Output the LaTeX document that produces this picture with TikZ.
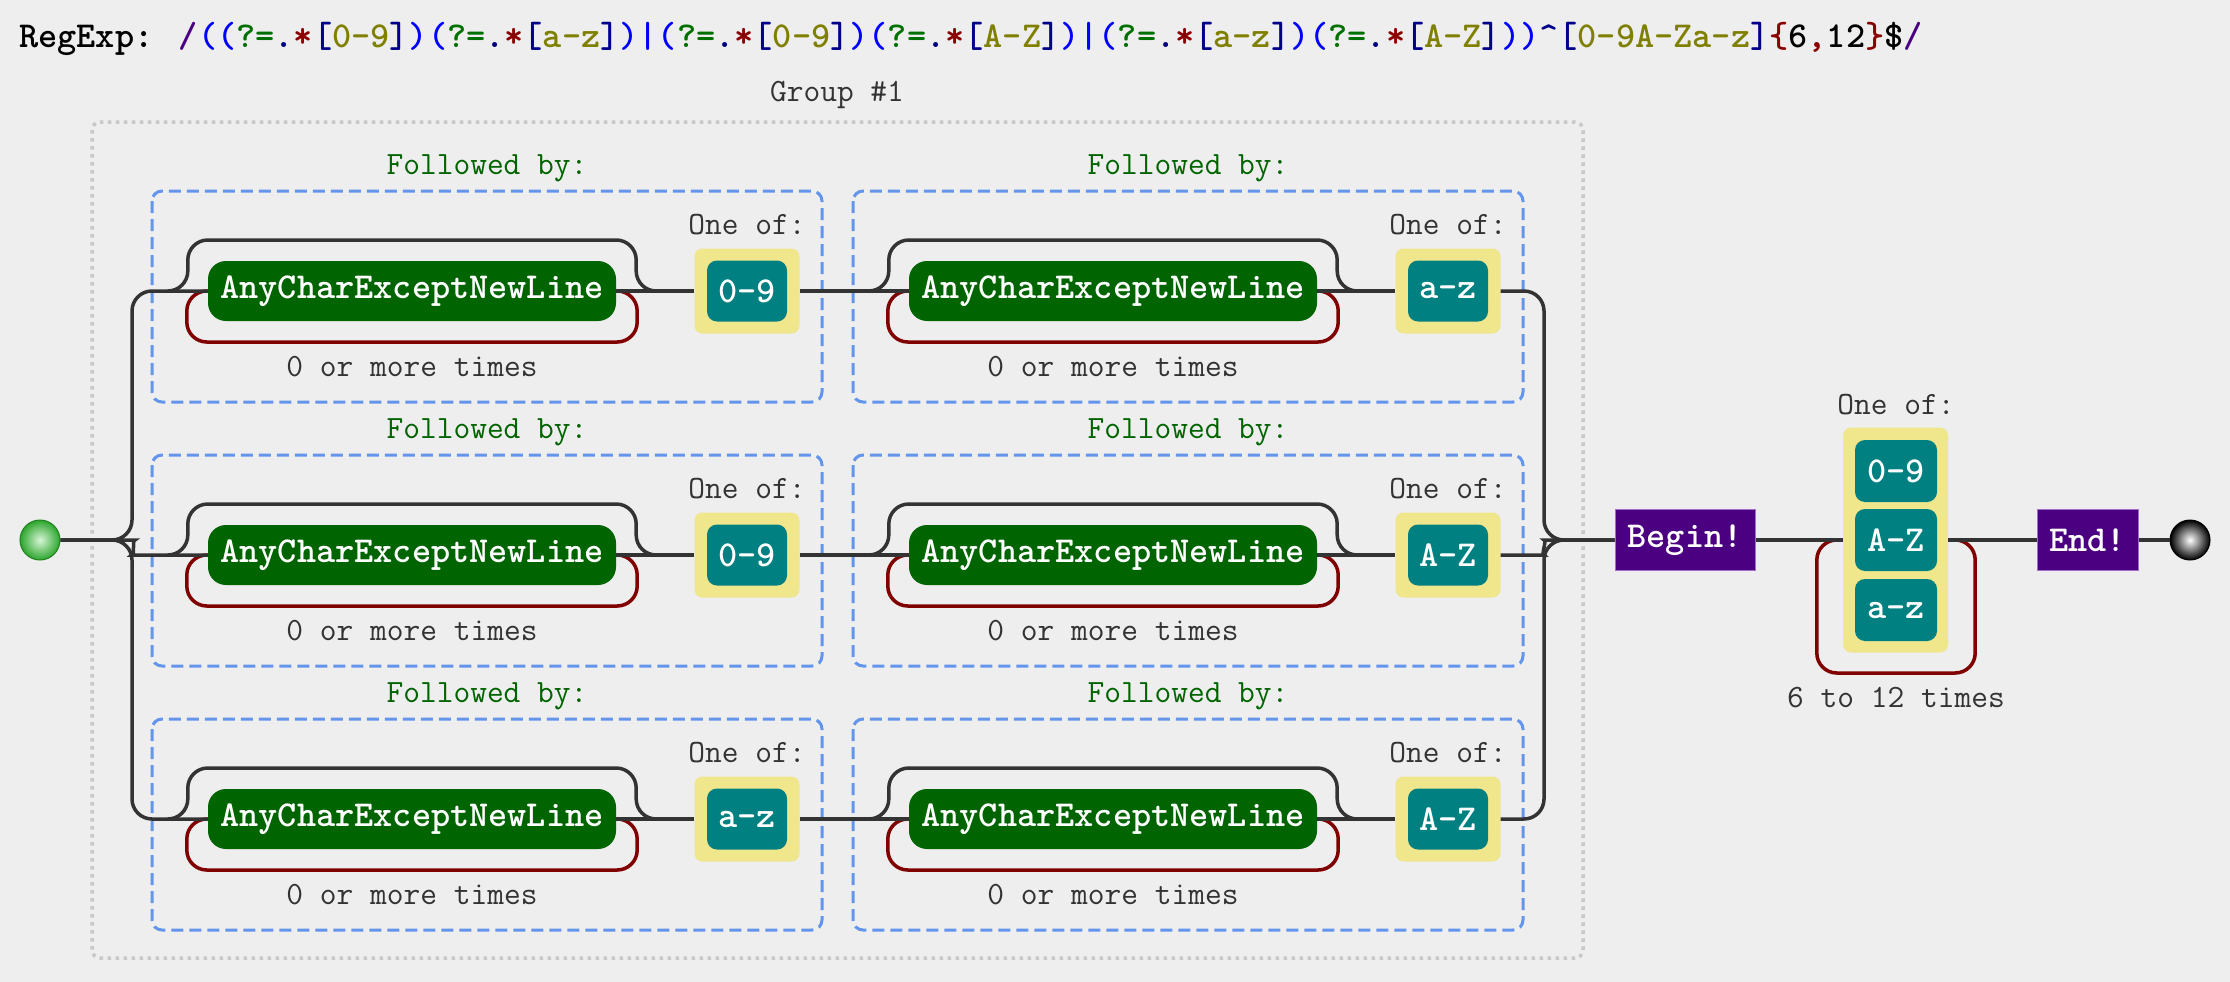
\documentclass[tikz,border=0pt]{standalone}
\usepackage{fontspec}
\definecolor{bgcol}{RGB}{238,238,238}
\definecolor{linecol}{RGB}{51,51,51}
\definecolor{labelcol}{RGB}{51,51,51}
\definecolor{followcol}{RGB}{0,100,0}
\definecolor{anycol}{RGB}{0,100,0}
\definecolor{setcol}{RGB}{240,230,140}
\definecolor{rangecol}{RGB}{0,128,128}
\definecolor{anchorcol}{RGB}{75,0,130}
\definecolor{anchorline}{RGB}{160,110,200}
\definecolor{loopcol}{RGB}{128,0,0}
\definecolor{lookcol}{RGB}{100,149,237}
\definecolor{groupcol}{RGB}{200,200,200}
\definecolor{startin}{RGB}{215,245,215}
\definecolor{startout}{RGB}{45,165,45}
\definecolor{startline}{RGB}{30,130,30}
\definecolor{rxslash}{RGB}{75,0,130}
\definecolor{rxparen}{RGB}{0,0,255}
\definecolor{rxlook}{RGB}{0,112,0}
\definecolor{rxdot}{RGB}{0,0,128}
\definecolor{rxstar}{RGB}{139,0,0}
\definecolor{rxbrack}{RGB}{0,0,139}
\definecolor{rxrange}{RGB}{128,128,0}
\newcommand{\rxnodefont}{\fontsize{36.5}{42}\selectfont\ttfamily\bfseries}
\newcommand{\rxlabelfont}{\fontsize{32.5}{38}\selectfont\ttfamily}
\newcommand{\rxahead}[1]{\textcolor{rxparen}{(}\textcolor{rxlook}{?=}\textcolor{rxdot}{.}\textcolor{rxstar}{*}\textcolor{rxbrack}{[}\textcolor{rxrange}{#1}\textcolor{rxbrack}{]}\textcolor{rxparen}{)}}
\begin{document}
\begin{tikzpicture}
[x=1pt, y=-1pt,
rail/.style={draw=linecol, line width=3.5pt, rounded corners=20pt},
repeatline/.style={draw=loopcol, line width=3.5pt, rounded corners=20pt},
lookbox/.style={draw=lookcol, line width=3pt, dash pattern=on 12pt off 6pt, rounded corners=10pt},
groupbox/.style={draw=groupcol, line width=3.5pt, dash pattern=on 3.5pt off 4.5pt, rounded corners=8pt},
railnote/.style={font=\rxlabelfont, text=labelcol, inner sep=0pt},
follow/.style={railnote, text=followcol},
anychar/.style={fill=anycol, rounded corners=18pt, text=white, font=\rxnodefont, minimum width=408pt, minimum height=60pt, inner sep=0pt},
setbox/.style={fill=setcol, rounded corners=8pt, minimum width=105pt, minimum height=85pt, inner sep=0pt},
rangebox/.style={fill=rangecol, rounded corners=10pt, text=white, font=\rxnodefont, minimum width=80pt, minimum height=61pt, inner sep=0pt},
anchorbox/.style={fill=anchorcol, draw=anchorline, line width=1pt, text=white, font=\rxnodefont, minimum height=61pt, inner sep=0pt},
startdot/.style={circle, minimum size=40pt, inner sep=0pt, draw=startline, line width=1pt, inner color=startin, outer color=startout},
enddot/.style={circle, minimum size=40pt, inner sep=0pt, draw=black, line width=1pt, inner color=white, outer color=black}]
\fill[bgcol] (0,0) rectangle (2230,982);
\useasboundingbox (0,0) rectangle (2230,982);
\node[anchor=west, font=\rxnodefont, inner sep=0pt] (regex) at (19,39) {RegExp: \textcolor{rxslash}{/}\textcolor{rxparen}{(}\rxahead{0-9}\rxahead{a-z}\textcolor{rxparen}{|}\rxahead{0-9}\rxahead{A-Z}\textcolor{rxparen}{|}\rxahead{a-z}\rxahead{A-Z}\textcolor{rxparen}{)}\textcolor{rxbrack}{\textasciicircum[}\textcolor{rxrange}{0-9A-Za-z}\textcolor{rxbrack}{]}\textcolor{rxstar}{\{}6\textcolor{rxstar}{,}12\textcolor{rxstar}{\}}\$\textcolor{rxslash}{/}};
\draw[groupbox] (92,122) rectangle (1583,958);
\node[railnote] (grouplbl) at (837,95) {Group \#1};
\draw[lookbox] (152,191) rectangle (822,402);
\node[follow] (fol1a) at (487,168) {Followed by:};
\node[anychar] (any1a) at (412,291) {AnyCharExceptNewLine};
\node[railnote] (rep1a) at (412,367) {0 or more times};
\node[railnote] (one1a) at (747,225) {One of:};
\node[setbox] (set1a) at (747,291) {};
\node[rangebox] (rng1a) at (747,291) {0-9};
\draw[lookbox] (853,191) rectangle (1523,402);
\node[follow] (fol1b) at (1188,168) {Followed by:};
\node[anychar] (any1b) at (1113,291) {AnyCharExceptNewLine};
\node[railnote] (rep1b) at (1113,367) {0 or more times};
\node[railnote] (one1b) at (1448,225) {One of:};
\node[setbox] (set1b) at (1448,291) {};
\node[rangebox] (rng1b) at (1448,291) {a-z};
\draw[lookbox] (152,455) rectangle (822,666);
\node[follow] (fol2a) at (487,432) {Followed by:};
\node[anychar] (any2a) at (412,555) {AnyCharExceptNewLine};
\node[railnote] (rep2a) at (412,631) {0 or more times};
\node[railnote] (one2a) at (747,489) {One of:};
\node[setbox] (set2a) at (747,555) {};
\node[rangebox] (rng2a) at (747,555) {0-9};
\draw[lookbox] (853,455) rectangle (1523,666);
\node[follow] (fol2b) at (1188,432) {Followed by:};
\node[anychar] (any2b) at (1113,555) {AnyCharExceptNewLine};
\node[railnote] (rep2b) at (1113,631) {0 or more times};
\node[railnote] (one2b) at (1448,489) {One of:};
\node[setbox] (set2b) at (1448,555) {};
\node[rangebox] (rng2b) at (1448,555) {A-Z};
\draw[lookbox] (152,719) rectangle (822,930);
\node[follow] (fol3a) at (487,696) {Followed by:};
\node[anychar] (any3a) at (412,819) {AnyCharExceptNewLine};
\node[railnote] (rep3a) at (412,895) {0 or more times};
\node[railnote] (one3a) at (747,753) {One of:};
\node[setbox] (set3a) at (747,819) {};
\node[rangebox] (rng3a) at (747,819) {a-z};
\draw[lookbox] (853,719) rectangle (1523,930);
\node[follow] (fol3b) at (1188,696) {Followed by:};
\node[anychar] (any3b) at (1113,819) {AnyCharExceptNewLine};
\node[railnote] (rep3b) at (1113,895) {0 or more times};
\node[railnote] (one3b) at (1448,753) {One of:};
\node[setbox] (set3b) at (1448,819) {};
\node[rangebox] (rng3b) at (1448,819) {A-Z};
\node[startdot] (start) at (40,540) {};
\node[anchorbox, minimum width=140pt] (begin) at (1685,540) {Begin!};
\node[railnote] (oneq) at (1896,405) {One of:};
\node[setbox, minimum height=225pt] (qset) at (1895.5,540) {};
\node[rangebox, minimum width=82pt, minimum height=62pt] (q09) at (1896,471) {0-9};
\node[rangebox, minimum width=82pt, minimum height=62pt] (qAZ) at (1896,540) {A-Z};
\node[rangebox, minimum width=82pt, minimum height=62pt] (qaz) at (1896,610) {a-z};
\node[railnote] (repq) at (1896,698) {6 to 12 times};
\node[anchorbox, minimum width=101pt] (finish) at (2087.5,540) {End!};
\node[enddot] (stop) at (2190,540) {};
\draw[repeatline] (any1a.west) -- ++(-21,0) -- ++(0,51) -| ([xshift=21pt]any1a.east) -- (any1a.east);
\draw[repeatline] (any1b.west) -- ++(-21,0) -- ++(0,51) -| ([xshift=21pt]any1b.east) -- (any1b.east);
\draw[repeatline] (any2a.west) -- ++(-21,0) -- ++(0,51) -| ([xshift=21pt]any2a.east) -- (any2a.east);
\draw[repeatline] (any2b.west) -- ++(-21,0) -- ++(0,51) -| ([xshift=21pt]any2b.east) -- (any2b.east);
\draw[repeatline] (any3a.west) -- ++(-21,0) -- ++(0,51) -| ([xshift=21pt]any3a.east) -- (any3a.east);
\draw[repeatline] (any3b.west) -- ++(-21,0) -- ++(0,51) -| ([xshift=21pt]any3b.east) -- (any3b.east);
\draw[repeatline] (qset.west) -- ++(-26,0) -- ++(0,133) -| ([xshift=27pt]qset.east) -- (qset.east);
\draw[rail] ([xshift=-40pt]any1a.west) -- ++(20,0) -- ++(0,-51) -| ([xshift=20pt]any1a.east) -- ++(20,0);
\draw[rail] ([xshift=-40pt]any1b.west) -- ++(20,0) -- ++(0,-51) -| ([xshift=20pt]any1b.east) -- ++(20,0);
\draw[rail] ([xshift=-40pt]any2a.west) -- ++(20,0) -- ++(0,-51) -| ([xshift=20pt]any2a.east) -- ++(20,0);
\draw[rail] ([xshift=-40pt]any2b.west) -- ++(20,0) -- ++(0,-51) -| ([xshift=20pt]any2b.east) -- ++(20,0);
\draw[rail] ([xshift=-40pt]any3a.west) -- ++(20,0) -- ++(0,-51) -| ([xshift=20pt]any3a.east) -- ++(20,0);
\draw[rail] ([xshift=-40pt]any3b.west) -- ++(20,0) -- ++(0,-51) -| ([xshift=20pt]any3b.east) -- ++(20,0);
\draw[rail] (start) -- (132,540) |- (any1a);
\draw[rail] (start) -- (115,540) .. controls (132,540) and (135,555) .. (152,555) -- (any2a);
\draw[rail] (start) -- (132,540) |- (any3a);
\draw[rail] (any1a) -- (set1a);
\draw[rail] (set1a) -- (any1b);
\draw[rail] (any1b) -- (set1b);
\draw[rail] (any2a) -- (set2a);
\draw[rail] (set2a) -- (any2b);
\draw[rail] (any2b) -- (set2b);
\draw[rail] (any3a) -- (set3a);
\draw[rail] (set3a) -- (any3b);
\draw[rail] (any3b) -- (set3b);
\draw[rail] (set1b) -- (1544,291) |- (begin);
\draw[rail] (set2b) -- (1524,555) .. controls (1541,555) and (1547,540) .. (1564,540) -- (begin);
\draw[rail] (set3b) -- (1544,819) |- (begin);
\draw[rail] (begin) -- (qset);
\draw[rail] (qset) -- (finish);
\draw[rail] (finish) -- (stop);
\end{tikzpicture}
\end{document}
